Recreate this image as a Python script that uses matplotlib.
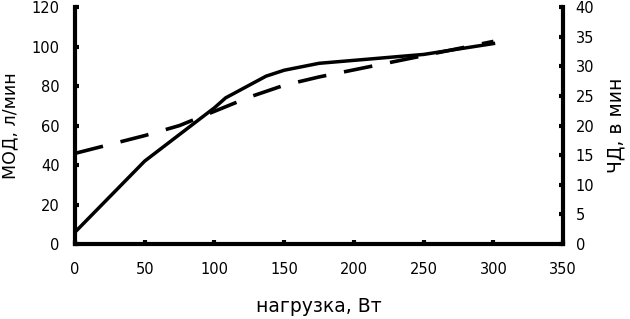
import matplotlib
matplotlib.use("Agg")
import matplotlib.pyplot as plt

# Data
load_mod = [0, 50, 100, 108, 137, 150, 175, 200, 250, 300]
mod_values = [6, 42, 69, 74, 85, 88, 91.5, 93, 96, 101.5]
load_rr = [0, 50, 75, 100, 125, 150, 175, 200, 250, 300]
rr_values = [15.3, 18.3, 20.0, 22.4, 24.8, 26.8, 28.2, 29.4, 31.8, 34.2]

x_ticks = [0, 50, 100, 150, 200, 250, 300, 350]
left_ticks = [0, 20, 40, 60, 80, 100, 120]
right_ticks = [0, 5, 10, 15, 20, 25, 30, 35, 40]

plt.rcParams['font.family'] = ['DejaVu Sans']

fig = plt.figure(figsize=(6.3, 3.19), dpi=100)
ax = fig.add_axes([0.119, 0.235, 0.775, 0.743])
ax2 = ax.twinx()

ax.plot(load_mod, mod_values, color='black', lw=2.5, solid_joinstyle='miter')
ax2.plot(load_rr, rr_values, color='black', lw=2.6, dashes=(8, 5))

ax.set_xlim(0, 350)
ax.set_ylim(0, 120)
ax2.set_ylim(0, 40)
ax.set_xticks(x_ticks)
ax.set_yticks(left_ticks)
ax2.set_yticks(right_ticks)

for a in (ax, ax2):
    a.spines['top'].set_visible(False)
    for s in a.spines.values():
        s.set_linewidth(3)
ax.spines['right'].set_visible(False)
ax2.spines['left'].set_visible(False)
ax2.spines['bottom'].set_visible(False)

ax.tick_params(axis='x', direction='in', length=3, width=3, pad=13, labelsize=10.5)
ax.tick_params(axis='y', direction='in', length=3, width=3, pad=11, labelsize=10.5)
ax2.tick_params(axis='y', direction='in', length=3, width=3, pad=9, labelsize=10.5)

ax.set_xlabel('нагрузка, Вт', fontsize=13.5, labelpad=14)
ax.set_ylabel('МОД, л/мин', fontsize=12.5, labelpad=9)
ax2.set_ylabel('ЧД, в мин', fontsize=13.5, labelpad=9)

fig.savefig('out.png', dpi=100)
